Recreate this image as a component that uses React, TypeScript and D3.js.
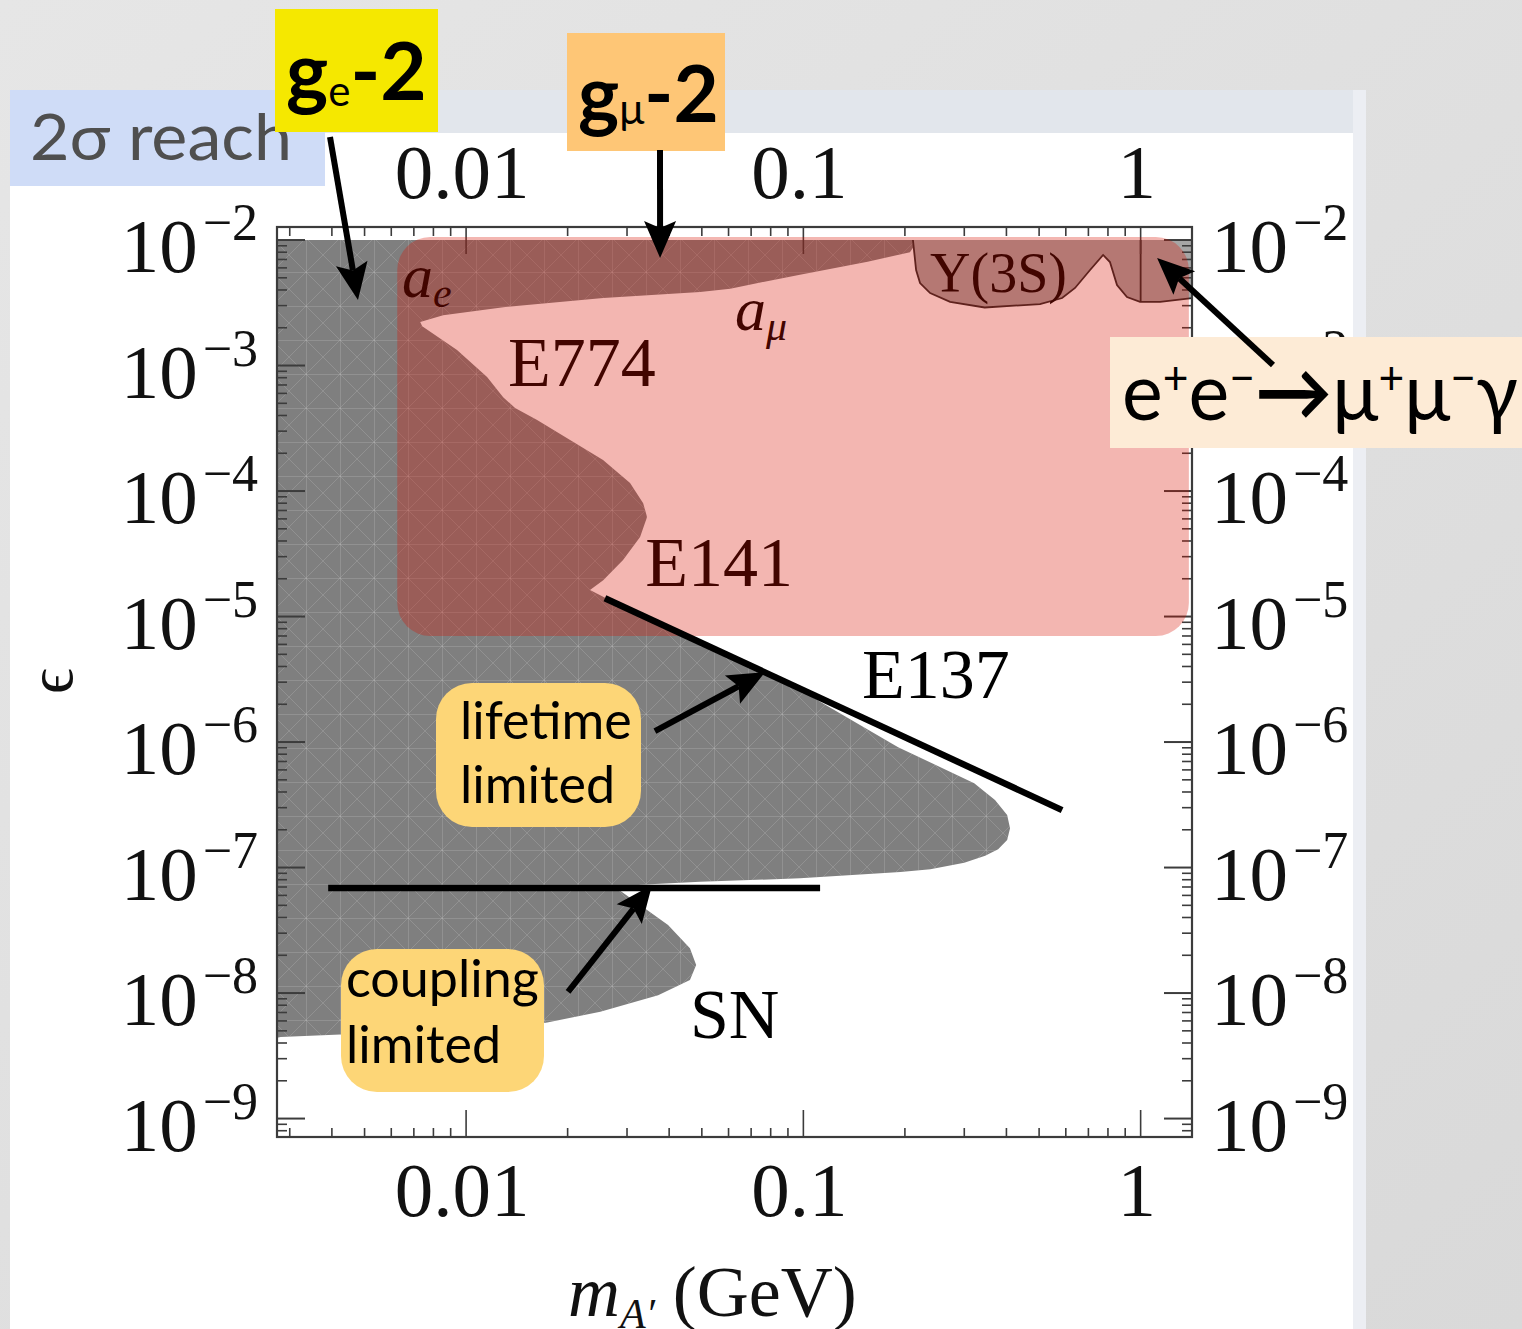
import React from "react";
import * as d3 from "d3";

type Pt = [number, number];

// Axis ranges: dark-photon mass (GeV) and kinetic mixing epsilon
const massDomain: [number, number] = [0.00275, 1.42];
const epsDomain: [number, number] = [7.13e-10, 0.0127];

const massMajor = [0.01, 0.1, 1];
const massMajorLabels = ["0.01", "0.1", "1"];
const epsMajorExp = [-2, -3, -4, -5, -6, -7, -8, -9];

// Lower edge of the a_e / a_mu excluded band, from high mass to low mass
const anomalyEdge: Pt[] = [
  [0.219, 1.0e-2], [0.207, 8.0e-3], [0.155, 6.7e-3], [0.0977, 5.3e-3], [0.0607, 4.1e-3],
  [0.0494, 3.85e-3], [0.0255, 3.45e-3], [0.0129, 2.92e-3], [0.00855, 2.52e-3], [0.00731, 2.22e-3],
];
// Beam-dump limits
const e774Edge: Pt[] = [
  [0.00741, 2.06e-3], [0.0094, 1.33e-3], [0.01154, 8.1e-4], [0.01288, 5.6e-4], [0.01397, 4.58e-4],
];
const e141Edge: Pt[] = [
  [0.01624, 3.68e-4], [0.02034, 2.55e-4], [0.02547, 1.77e-4], [0.03063, 1.16e-4], [0.0335, 8.0e-5],
  [0.0344, 6.2e-5], [0.0328, 4.3e-5], [0.0292, 2.82e-5], [0.0255, 1.95e-5], [0.0233, 1.63e-5],
];
const e137Edge: Pt[] = [
  [0.0267, 1.35e-5], [0.0494, 6.26e-6], [0.0977, 2.6e-6], [0.191, 9.1e-7], [0.321, 4.7e-7],
  [0.37, 3.45e-7], [0.402, 2.62e-7], [0.41, 2.06e-7], [0.402, 1.66e-7], [0.378, 1.4e-7],
  [0.346, 1.24e-7], [0.3, 1.09e-7], [0.238, 9.7e-8], [0.194, 9.2e-8], [0.0977, 8.2e-8],
  [0.0494, 7.7e-8], [0.0328, 7.3e-8],
];
// Supernova cooling limit
const snEdge: Pt[] = [
  [0.0285, 6.6e-8], [0.0397, 3.48e-8], [0.0461, 2.28e-8], [0.0481, 1.67e-8], [0.0461, 1.27e-8],
  [0.0371, 9.6e-9], [0.025, 7.1e-9], [0.01726, 5.8e-9], [0.00637, 4.9e-9], [0.00282, 4.46e-9],
];
const snLowEps = 4.4e-9;
// BaBar Upsilon(3S) -> gamma mu mu limit
const babarEdge: Pt[] = [
  [0.2113, 1.0e-2], [0.2159, 5.77e-3], [0.2218, 4.54e-3], [0.2376, 3.78e-3], [0.2723, 3.22e-3],
  [0.345, 2.9e-3], [0.503, 3.09e-3], [0.585, 3.45e-3], [0.639, 4.15e-3], [0.708, 5.77e-3],
  [0.774, 7.6e-3], [0.811, 6.68e-3], [0.851, 4.38e-3], [0.911, 3.51e-3], [0.996, 3.21e-3],
  [1.142, 3.21e-3], [1.42, 3.45e-3],
];
const babarNotch: Pt[] = [[1.0, 1.0e-2], [1.0, 3.21e-3]];

// Highlighted 2-sigma reach window
const reachMass: [number, number] = [0.00625, 1.39];
const reachEps: [number, number] = [7.0e-6, 1.056e-2];

// Annotation lines
const lifetimeLine: Pt[] = [[0.0258, 1.4e-5], [0.585, 2.87e-7]];
const couplingLine: Pt[] = [[0.0039, 6.87e-8], [0.1121, 6.87e-8]];

const serif = "'Liberation Serif', 'Times New Roman', serif";
const sans = "Lato, 'Open Sans', sans-serif";

function Arrow({ x1, y1, x2, y2 }: { x1: number; y1: number; x2: number; y2: number }) {
  const dx = x2 - x1, dy = y2 - y1, L = Math.hypot(dx, dy);
  const ux = dx / L, uy = dy / L, px = -uy, py = ux;
  const hl = 37, hw = 16;
  const bx = x2 - ux * hl, by = y2 - uy * hl;
  const nx = bx + ux * 7, ny = by + uy * 7;
  return (
    <g>
      <line x1={x1} y1={y1} x2={nx} y2={ny} stroke="#000" strokeWidth={6} />
      <polygon
        points={`${x2},${y2} ${bx + px * hw},${by + py * hw} ${nx},${ny} ${bx - px * hw},${by - py * hw}`}
        fill="#000"
      />
    </g>
  );
}

export default function App() {
  const x = d3.scaleLog().domain(massDomain).range([277, 1192]);
  const y = d3.scaleLog().domain(epsDomain).range([1137, 227]);
  const left = 277, right = 1192, top = 227, bottom = 1137;
  const line = d3.line<Pt>().x((d) => x(d[0])).y((d) => y(d[1]));

  const excluded: Pt[] = [
    [massDomain[0], 1e-2], ...anomalyEdge, ...e774Edge, ...e141Edge, ...e137Edge, ...snEdge,
    [massDomain[0], snLowEps],
  ];
  const babarArea: Pt[] = [...babarEdge, [massDomain[1], 1e-2]];

  const epsMinor: number[] = [];
  for (let n = -10; n <= -2; n++)
    for (let k = 2; k <= 9; k++) {
      const v = k * Math.pow(10, n);
      if (v > epsDomain[0] && v < epsDomain[1]) epsMinor.push(v);
    }
  const massMinor: number[] = [];
  for (let n = -3; n <= 0; n++)
    for (let k = 2; k <= 9; k++) {
      const v = k * Math.pow(10, n);
      if (v > massDomain[0] && v < massDomain[1]) massMinor.push(v);
    }

  const tickColor = "#3c3c3c";
  const P = (p: Pt): [number, number] => [x(p[0]), y(p[1])];

  const label = (m: number, e: number) => ({ x: x(m), y: y(e) });
  const aE = label(0.00646, 3.51e-3);
  const aMu = label(0.0627, 1.92e-3);
  const l774 = label(0.01332, 6.87e-4);
  const l141 = label(0.034, 1.75e-5);
  const l137 = label(0.1493, 2.24e-6);
  const lSN = label(0.0461, 4.38e-9);
  const lUps = label(0.2375, 3.85e-3);

  const [lt1x, lt1y] = P([0.0363, 1.22e-6]);
  const [lt2x, lt2y] = P([0.077, 3.61e-6]);
  const [cp1x, cp1y] = P([0.02006, 1.02e-8]);
  const [cp2x, cp2y] = P([0.0356, 7.26e-8]);
  const [geX, geY] = P([0.00478, 3.33e-3]);
  const [gmX, gmY] = P([0.0376, 7.2e-3]);
  const [eeX, eeY] = P([1.119, 7.2e-3]);

  return (
    <svg
      width={1522}
      height={1329}
      style={{ position: "absolute", left: 0, top: 0, display: "block" }}
      xmlns="http://www.w3.org/2000/svg"
    >
      <defs>
        <linearGradient id="slideBg" x1="0" y1="0" x2="1" y2="1">
          <stop offset="0" stopColor="#e6e6e6" />
          <stop offset="1" stopColor="#d9d9d9" />
        </linearGradient>
        <pattern id="mesh" width="34" height="34" patternUnits="userSpaceOnUse">
          <path
            d="M0 0.5H34M0.5 0V34M0 0L34 34M34 0L0 34"
            stroke="#d0d0d0"
            strokeOpacity={0.22}
            strokeWidth={1}
            fill="none"
          />
        </pattern>
        <clipPath id="plotClip">
          <rect x={left} y={top} width={right - left} height={bottom - top} />
        </clipPath>
      </defs>

      {/* slide */}
      <rect x={0} y={0} width={1522} height={1329} fill="url(#slideBg)" />
      <rect x={10} y={90} width={1356} height={43} fill="#e2e6ec" />
      <rect x={1353} y={90} width={13} height={1239} fill="#eceef3" />
      <rect x={10} y={133} width={1343} height={1196} fill="#ffffff" />

      {/* excluded regions */}
      <g clipPath="url(#plotClip)">
        <path d={line(excluded)! + "Z"} fill="#7f7f7f" />
        <path d={line(excluded)! + "Z"} fill="url(#mesh)" />
        <path d={line(babarArea)! + "Z"} fill="#a6a6a6" />
        <path d={line(babarEdge)!} fill="none" stroke="#2a2a2a" strokeWidth={1.8} />
        <path d={line(babarNotch)!} fill="none" stroke="#2a2a2a" strokeWidth={1.8} />
      </g>

      {/* frame and ticks */}
      <g stroke={tickColor} strokeWidth={1.6}>
        <rect x={left} y={top} width={right - left} height={bottom - top} fill="none" strokeWidth={2.2} />
        {epsMajorExp.map((e) => {
          const yy = y(Math.pow(10, e));
          return (
            <g key={"em" + e}>
              <line x1={left} x2={left + 28} y1={yy} y2={yy} strokeWidth={2} />
              <line x1={right} x2={right - 28} y1={yy} y2={yy} strokeWidth={2} />
            </g>
          );
        })}
        {epsMinor.map((v, i) => {
          const yy = y(v);
          return (
            <g key={"en" + i}>
              <line x1={left} x2={left + 10} y1={yy} y2={yy} />
              <line x1={right} x2={right - 10} y1={yy} y2={yy} />
            </g>
          );
        })}
        {massMajor.map((m) => {
          const xx = x(m);
          return (
            <g key={"mm" + m}>
              <line x1={xx} x2={xx} y1={bottom} y2={bottom - 27} />
              <line x1={xx} x2={xx} y1={top} y2={top + 27} />
            </g>
          );
        })}
        {massMinor.map((m, i) => {
          const xx = x(m);
          return (
            <g key={"mn" + i}>
              <line x1={xx} x2={xx} y1={bottom} y2={bottom - 9} />
              <line x1={xx} x2={xx} y1={top} y2={top + 9} />
            </g>
          );
        })}
      </g>

      {/* region labels beneath the highlight */}
      <g fontFamily={serif} fill="#000">
        <text x={aE.x} y={aE.y} fontSize={62} fontStyle="italic">
          a<tspan fontSize={42} dy={10}>e</tspan>
        </text>
        <text x={aMu.x} y={aMu.y} fontSize={62} fontStyle="italic">
          a<tspan fontSize={42} dy={10}>μ</tspan>
        </text>
        <text x={l774.x} y={l774.y} fontSize={70}>E774</text>
        <text x={l141.x} y={l141.y} fontSize={70}>E141</text>
        <text x={lUps.x} y={lUps.y} fontSize={56}>Υ(3S)</text>
      </g>

      {/* 2-sigma reach highlight */}
      <rect
        x={x(reachMass[0])}
        y={y(reachEps[1])}
        width={x(reachMass[1]) - x(reachMass[0])}
        height={y(reachEps[0]) - y(reachEps[1])}
        rx={33}
        fill="rgb(216,17,1)"
        fillOpacity={0.307}
      />

      <g fontFamily={serif} fill="#000">
        <text x={l137.x} y={l137.y} fontSize={70}>E137</text>
        <text x={lSN.x} y={lSN.y} fontSize={70}>SN</text>
      </g>

      {/* tick labels */}
      <g fontFamily={serif} fill="#111">
        {epsMajorExp.map((e) => {
          const yy = y(Math.pow(10, e));
          return (
            <g key={"lab" + e}>
              <text x={258} y={yy + 32} textAnchor="end" fontSize={77}>
                10<tspan dx={5} dy={-32} fontSize={52}>{"\u2212" + Math.abs(e)}</tspan>
              </text>
              <text x={1211} y={yy + 32} textAnchor="start" fontSize={77}>
                10<tspan dx={5} dy={-32} fontSize={52}>{"\u2212" + Math.abs(e)}</tspan>
              </text>
            </g>
          );
        })}
        {massMajor.map((m, i) => (
          <g key={"ml" + m}>
            <text x={x(m) - 4} y={198} textAnchor="middle" fontSize={77}>{massMajorLabels[i]}</text>
            <text x={x(m) - 4} y={1216} textAnchor="middle" fontSize={77}>{massMajorLabels[i]}</text>
          </g>
        ))}
        <text x={568} y={1316} fontSize={72}>
          <tspan fontStyle="italic">m</tspan>
          <tspan fontStyle="italic" fontSize={42} dy={12}>A′</tspan>
          <tspan dy={-12}> (GeV)</tspan>
        </text>
        <text x={0} y={0} fontSize={64} textAnchor="middle" transform="translate(72,681) rotate(-90)">
          ϵ
        </text>
      </g>

      {/* annotations */}
      <line
        x1={x(lifetimeLine[0][0])} y1={y(lifetimeLine[0][1])}
        x2={x(lifetimeLine[1][0])} y2={y(lifetimeLine[1][1])}
        stroke="#000" strokeWidth={6.5}
      />
      <line
        x1={x(couplingLine[0][0])} y1={y(couplingLine[0][1])}
        x2={x(couplingLine[1][0])} y2={y(couplingLine[1][1])}
        stroke="#000" strokeWidth={6.5}
      />
      <Arrow x1={lt1x} y1={lt1y} x2={lt2x} y2={lt2y} />
      <Arrow x1={cp1x} y1={cp1y} x2={cp2x} y2={cp2y} />

      <rect x={436} y={683} width={205} height={144} rx={36} fill="#fdd677" />
      <text x={460} y={739} fontFamily={sans} fontSize={52} fill="#000">lifetime</text>
      <text x={460} y={803} fontFamily={sans} fontSize={52} fill="#000">limited</text>

      <rect x={341} y={949} width={203} height={143} rx={36} fill="#fdd677" />
      <text x={346} y={997} fontFamily={sans} fontSize={52} fill="#000">coupling</text>
      <text x={346} y={1063} fontFamily={sans} fontSize={52} fill="#000">limited</text>

      <rect x={10} y={90} width={315} height={96} fill="#cfdcf7" />
      <text x={30} y={160} fontFamily={sans} fontSize={64} fill="#4f4f4f" textLength={262} lengthAdjust="spacingAndGlyphs">
        2σ reach
      </text>

      <rect x={275} y={9} width={163} height={123} fill="#f5e800" />
      <text x={286} y={100} fontFamily={sans} fontSize={80} fontWeight={700} fill="#000">
        g<tspan fontSize={42} fontWeight={400} dy={6}>e</tspan>
        <tspan dy={-6}>-2</tspan>
      </text>
      <Arrow x1={330} y1={137} x2={geX} y2={geY} />

      <rect x={567} y={33} width={158} height={118} fill="#fec676" />
      <text x={578} y={122} fontFamily={sans} fontSize={78} fontWeight={700} fill="#000">
        g<tspan fontSize={42} fontWeight={400} dy={2}>μ</tspan>
        <tspan dy={-2}>-2</tspan>
      </text>
      <Arrow x1={660} y1={150} x2={gmX} y2={gmY} />

      <rect x={1110} y={337} width={412} height={111} fill="#fdebd6" />
      <Arrow x1={1273} y1={365} x2={eeX} y2={eeY} />
      <text
        x={1122}
        y={420}
        fontFamily={sans}
        fontSize={80}
        fill="#000"
        textLength={396}
        lengthAdjust="spacingAndGlyphs"
      >
        e<tspan fontSize={46} dy={-26}>+</tspan>
        <tspan dy={26}>e</tspan>
        <tspan fontSize={46} dy={-26}>−</tspan>
        <tspan dy={26} fontWeight={700}>→</tspan>
        <tspan>μ</tspan>
        <tspan fontSize={46} dy={-26}>+</tspan>
        <tspan dy={26}>μ</tspan>
        <tspan fontSize={46} dy={-26}>−</tspan>
        <tspan dy={26}>γ</tspan>
      </text>
    </svg>
  );
}
